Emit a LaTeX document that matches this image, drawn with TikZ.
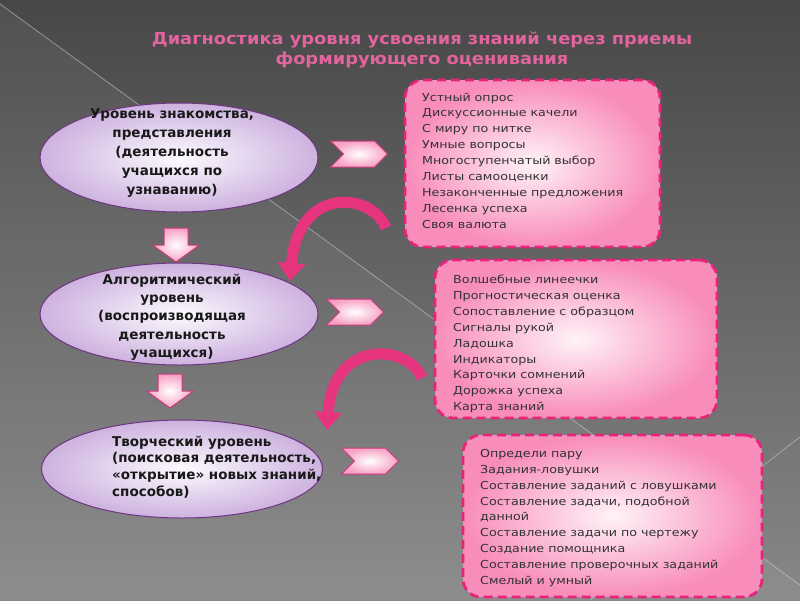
\documentclass[tikz,border=0pt]{standalone}
\usepackage{fontspec}
\setmainfont{DejaVu Sans}
\newfontfamily\ttlfont[FakeStretch=1.08]{DejaVu Sans}
\newfontfamily\boxfont[FakeStretch=1.15]{DejaVu Sans}
\usetikzlibrary{shapes.geometric,shapes.symbols,arrows.meta}

\definecolor{ttlpink}{HTML}{E2649E}
\definecolor{lvlin}{HTML}{FCFAFE}
\definecolor{lvlout}{HTML}{CDB2DF}
\definecolor{lvlline}{HTML}{6E3580}
\definecolor{boxin}{HTML}{FFF3F8}
\definecolor{boxout}{HTML}{F88CBA}
\definecolor{boxline}{HTML}{E6247A}
\definecolor{chvout}{HTML}{F7A1C4}
\definecolor{chvline}{HTML}{C93A7C}
\definecolor{crvpink}{HTML}{E6347F}
\definecolor{txtgrey}{HTML}{333333}

\tikzset{dnarr/.pic={
    \filldraw[draw=chvline,line width=1pt,inner color=white,outer color=chvout]
      (-12,0) -- (12,0) -- (12,17) -- (23.5,17) -- (0,34) -- (-23.5,17) -- (-12,17) -- cycle;}}

\begin{document}
\begin{tikzpicture}[x=1pt,y=-1pt,
    lvl/.style={ellipse,draw=lvlline,line width=1pt,inner color=lvlin,outer color=lvlout},
    lvltxt/.style={font=\fontsize{13.5}{19}\selectfont\bfseries,text=black!90,inner sep=0pt},
    boxst/.style={rectangle,rounded corners=18pt,draw=boxline,line width=2.8pt,
        dash pattern=on 9pt off 5pt,inner color=boxin,outer color=boxout},
    boxtxt/.style={font=\boxfont\fontsize{11}{15.9}\selectfont,text=txtgrey,align=left,inner sep=0pt,anchor=west},
    chv/.style={signal,signal from=west,signal to=east,draw=chvline,line width=1pt,
        inner color=white,outer color=chvout,minimum width=57pt,minimum height=26pt,inner sep=0pt},
    curvy/.style={draw=crvpink,line width=11pt,-{Triangle[width=27pt,length=18pt]}},
    bgline/.style={draw=white!70!gray,line width=0.8pt,opacity=.5}]

\useasboundingbox (0,0) rectangle (800,600);
\shade[top color=black!72,bottom color=black!47] (0,0) rectangle (800,600);
\fill[white,opacity=.05] (0,4) -- (800,585) -- (800,600) -- (0,600) -- cycle;
\draw[bgline] (0,4) -- (800,585);
\draw[bgline] (800,437) -- (590,600);

\node[font=\ttlfont\bfseries\fontsize{16.5}{20.5}\selectfont,text=ttlpink,align=center] (ttl) at (422,50)
    {Диагностика уровня усвоения знаний через приемы\\формирующего оценивания};

\node[lvl,minimum width=278pt,minimum height=109pt] (lvlA) at (179,157.5) {};
\node[lvl,minimum width=278pt,minimum height=102pt] (lvlB) at (179,314) {};
\node[lvl,minimum width=281pt,minimum height=98pt] (lvlC) at (182,469) {};

\node[lvltxt,align=center] (lvlAtxt) at (172,153) {Уровень знакомства,\\представления\\(деятельность\\учащихся по\\узнаванию)};
\node[lvltxt,align=center,font=\fontsize{13.5}{18.3}\selectfont\bfseries] (lvlBtxt) at (172,317) {Алгоритмический\\уровень\\(воспроизводящая\\деятельность\\учащихся)};
\node[lvltxt,align=left,anchor=west,font=\fontsize{13.5}{16.8}\selectfont\bfseries] (lvlCtxt) at (112,467) {Творческий уровень\\(поисковая деятельность,\\«открытие» новых знаний,\\способов)};

\pic (dnA) at (176,228) {dnarr};
\pic (dnB) at (170,374) {dnarr};

\node[chv] (chvA) at (359,154) {};
\node[chv] (chvB) at (355,312) {};
\node[chv] (chvC) at (370,461) {};

\node[boxst,minimum width=255pt,minimum height=167pt] (boxA) at (532.5,163.5) {};
\node[boxst,minimum width=282pt,minimum height=158pt] (boxB) at (576,339) {};
\node[boxst,minimum width=299pt,minimum height=162pt] (boxC) at (612.5,516) {};

\node[boxtxt] (boxAtxt) at (422,160.5) {Устный опрос\\Дискуссионные качели\\С миру по нитке\\Умные вопросы\\Многоступенчатый выбор\\Листы самооценки\\Незаконченные предложения\\Лесенка успеха\\Своя валюта};
\node[boxtxt] (boxBtxt) at (453,344) {Волшебные линеечки\\Прогностическая оценка\\Сопоставление с образцом\\Сигналы рукой\\Ладошка\\Индикаторы\\Карточки сомнений\\Дорожка успеха\\Карта знаний};
\node[boxtxt] (boxCtxt) at (480,518) {Определи пару\\Задания-ловушки\\Составление заданий с ловушками\\Составление задачи, подобной\\данной\\Составление задачи по чертежу\\Создание помощника\\Составление проверочных заданий\\Смелый и умный};

\coordinate (crvAs) at (386,228);
\coordinate (crvAe) at (290,281);
\coordinate (crvBs) at (422,378);
\coordinate (crvBe) at (327,430);
\draw[curvy] (crvAs) .. controls (372,192) and (298,185) .. (crvAe);
\draw[curvy] (crvBs) .. controls (408,344) and (333,338) .. (crvBe);
\end{tikzpicture}
\end{document}
